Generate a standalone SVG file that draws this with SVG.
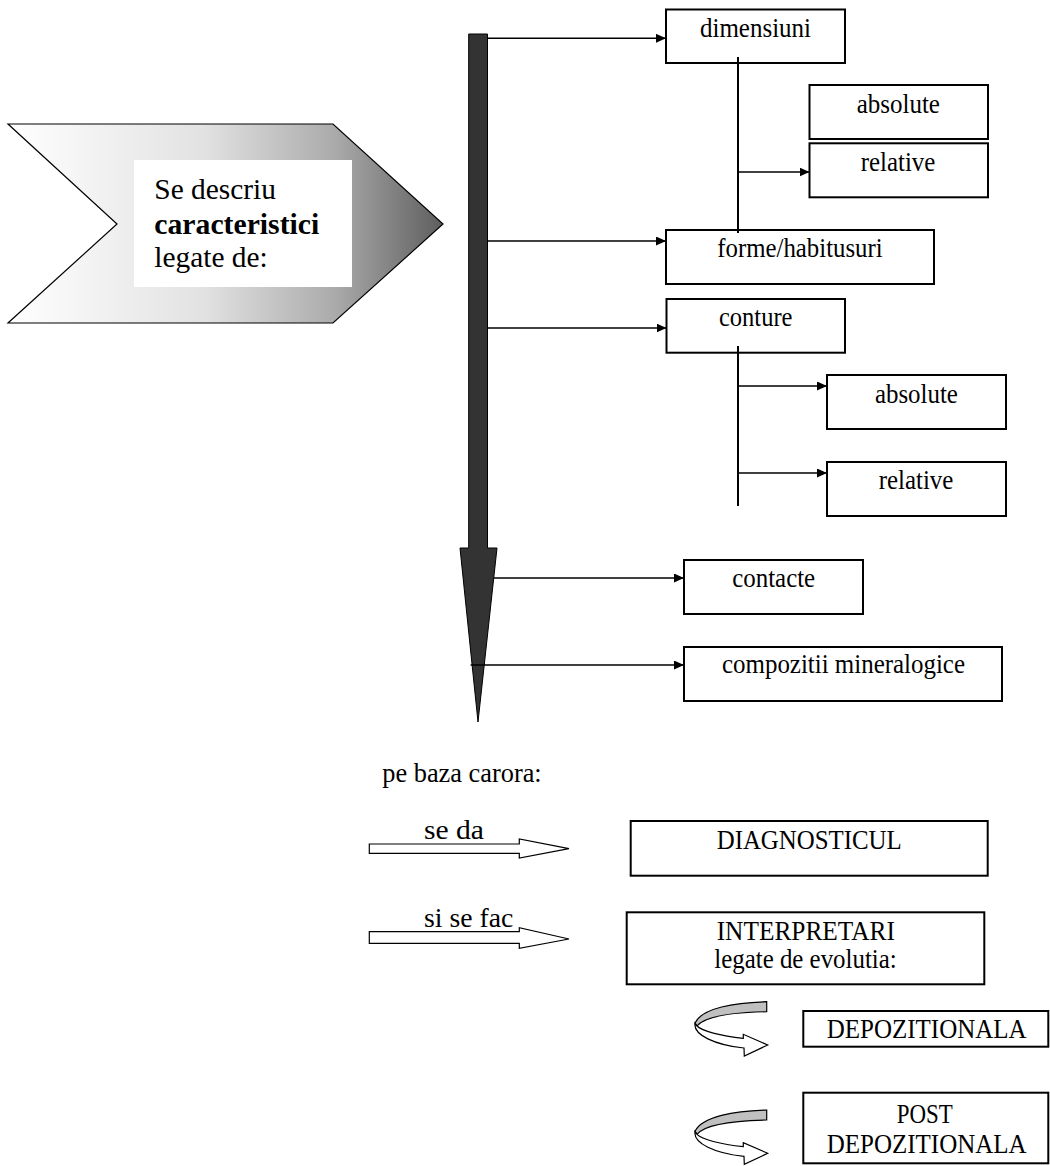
<svg xmlns="http://www.w3.org/2000/svg" width="1050" height="1166" viewBox="0 0 1050 1166">
<style>
  .box { fill: #ffffff; stroke: #000000; stroke-width: 2; }
  .t { font-family: "Liberation Serif", "Times New Roman", serif; font-size: 27px; fill: #000000; }
  .tc { text-anchor: middle; }
  .big { font-size: 29px; }
  .con { fill: none; stroke: #000000; stroke-width: 1.5; }
  .vline { fill: none; stroke: #000000; stroke-width: 2; }
  .hollow { fill: #ffffff; stroke: #000000; stroke-width: 1.2; stroke-linejoin: miter; }
  .band { fill: #c0c0c0; stroke: #000000; stroke-width: 1.2; }
  .ribbon { fill: #ffffff; stroke: #000000; stroke-width: 1.2; }
</style>
<defs>
  <linearGradient id="chevGrad" x1="8" y1="0" x2="443" y2="0" gradientUnits="userSpaceOnUse">
    <stop offset="0" stop-color="#ffffff"/>
    <stop offset="0.45" stop-color="#e2e2e2"/>
    <stop offset="0.75" stop-color="#ababab"/>
    <stop offset="1" stop-color="#5e5e5e"/>
  </linearGradient>
  <marker id="ah" markerUnits="userSpaceOnUse" markerWidth="10" markerHeight="9" refX="10" refY="4.5" orient="auto">
    <path d="M0,0 L10,4.5 L0,9 Z" fill="#000000"/>
  </marker>
  <g id="curl">
    <path class="band" d="M766.7,1001.7 C735,1002.5 702,1008 695,1023 L697,1026 C704,1017 730,1012.5 766.7,1011.7 Z"/>
    <path class="ribbon" d="M695,1023 C693,1035 715,1045 744,1048 L744.3,1056 L767.7,1045 L743.3,1034.3 L743.3,1038.3 C720,1036 702,1031 697,1026 Z"/>
  </g>
</defs>

<rect width="1050" height="1166" fill="#ffffff"/>

<g id="chevron">
  <polygon points="8,124 333,124 443,224 333,323 8,323 117,224" fill="url(#chevGrad)" stroke="#000000" stroke-width="1.2"/>
  <rect x="134" y="160" width="218" height="127" fill="#ffffff"/>
  <text class="t big" x="154.3" y="199.3" textLength="121.7" lengthAdjust="spacingAndGlyphs">Se descriu</text>
  <text class="t big" x="154.3" y="234" font-weight="bold" textLength="165" lengthAdjust="spacingAndGlyphs">caracteristici</text>
  <text class="t big" x="154.3" y="266.7" textLength="113.4" lengthAdjust="spacingAndGlyphs">legate de:</text>
</g>

<g id="main-arrow">
  <polygon points="468.7,34 487.5,34 487.5,548 497,548 478,722 460,548 468.7,548" fill="#333333" stroke="#000000" stroke-width="1"/>
</g>

<g id="dimensiuni">
  <rect class="box" x="666" y="9.5" width="179" height="53.5"/>
  <text class="t tc" x="755.5" y="36.7" textLength="111" lengthAdjust="spacingAndGlyphs">dimensiuni</text>
</g>
<g id="dim-absolute">
  <rect class="box" x="809.5" y="85" width="178.5" height="54"/>
  <text class="t tc" x="898.3" y="113.3" textLength="83.3" lengthAdjust="spacingAndGlyphs">absolute</text>
</g>
<g id="dim-relative">
  <rect class="box" x="809.5" y="143.3" width="178.5" height="54"/>
  <text class="t tc" x="898" y="170.7" textLength="74.7" lengthAdjust="spacingAndGlyphs">relative</text>
</g>
<g id="forme">
  <rect class="box" x="666" y="230" width="268" height="54"/>
  <text class="t tc" x="800" y="257" textLength="165.3" lengthAdjust="spacingAndGlyphs">forme/habitusuri</text>
</g>
<g id="conture">
  <rect class="box" x="666.5" y="299" width="178.5" height="53.7"/>
  <text class="t tc" x="755.7" y="326" textLength="73.6" lengthAdjust="spacingAndGlyphs">conture</text>
</g>
<g id="cont-absolute">
  <rect class="box" x="827" y="375" width="179" height="54"/>
  <text class="t tc" x="916.4" y="402.7" textLength="83" lengthAdjust="spacingAndGlyphs">absolute</text>
</g>
<g id="cont-relative">
  <rect class="box" x="827" y="462" width="179" height="54"/>
  <text class="t tc" x="916" y="489.3" textLength="74.7" lengthAdjust="spacingAndGlyphs">relative</text>
</g>
<g id="contacte">
  <rect class="box" x="684" y="560" width="179" height="54"/>
  <text class="t tc" x="773.7" y="586.7" textLength="83" lengthAdjust="spacingAndGlyphs">contacte</text>
</g>
<g id="compozitii">
  <rect class="box" x="684" y="647" width="318" height="54"/>
  <text class="t tc" x="843.5" y="673.3" textLength="243" lengthAdjust="spacingAndGlyphs">compozitii mineralogice</text>
</g>

<g id="connectors">
  <line class="con" x1="487.5" y1="38.3" x2="666" y2="38.3" marker-end="url(#ah)"/>
  <line class="vline" x1="738" y1="57" x2="738" y2="233"/>
  <line class="con" x1="738" y1="172" x2="809.5" y2="172" marker-end="url(#ah)"/>
  <line class="con" x1="487.5" y1="241" x2="666" y2="241" marker-end="url(#ah)"/>
  <line class="con" x1="487.5" y1="328" x2="666.5" y2="328" marker-end="url(#ah)"/>
  <line class="vline" x1="738" y1="346" x2="738" y2="506"/>
  <line class="con" x1="738" y1="386" x2="827" y2="386" marker-end="url(#ah)"/>
  <line class="con" x1="738" y1="473" x2="827" y2="473" marker-end="url(#ah)"/>
  <line class="con" x1="493.6" y1="578" x2="684" y2="578" marker-end="url(#ah)"/>
  <line class="con" x1="470.6" y1="665" x2="684" y2="665" marker-end="url(#ah)"/>
</g>

<g id="pe-baza">
  <text class="t" x="382.3" y="781.7" textLength="159.4" lengthAdjust="spacingAndGlyphs">pe baza carora:</text>
</g>

<g id="arrow-se-da">
  <polygon class="hollow" points="369.3,844 519.3,844 519.3,839 569,848.7 519.3,858 519.3,853.3 369.3,853.3"/>
  <text class="t" x="424" y="839.3" textLength="60" lengthAdjust="spacingAndGlyphs">se da</text>
</g>
<g id="arrow-si-se-fac">
  <polygon class="hollow" points="369.3,931.7 519.3,931.7 519.3,927.7 569,939 519.3,948.3 519.3,943.3 369.3,943.3"/>
  <text class="t" x="424" y="926.7" textLength="89.3" lengthAdjust="spacingAndGlyphs">si se fac</text>
</g>

<g id="diagnosticul">
  <rect class="box" x="630.7" y="821" width="357" height="54.7"/>
  <text class="t tc" x="809.2" y="849.3" textLength="185" lengthAdjust="spacingAndGlyphs">DIAGNOSTICUL</text>
</g>
<g id="interpretari">
  <rect class="box" x="626.7" y="912.3" width="357.6" height="72"/>
  <text class="t tc" x="805.8" y="940" textLength="178.3" lengthAdjust="spacingAndGlyphs">INTERPRETARI</text>
  <text class="t tc" x="805.5" y="968.3" textLength="182.4" lengthAdjust="spacingAndGlyphs">legate de evolutia:</text>
</g>

<g id="curl-1">
  <use href="#curl"/>
</g>
<g id="depozitionala">
  <rect class="box" x="803.3" y="1011" width="245" height="35.7"/>
  <text class="t tc" x="926.7" y="1038.3" textLength="200" lengthAdjust="spacingAndGlyphs">DEPOZITIONALA</text>
</g>

<g id="curl-2">
  <use href="#curl" transform="translate(0,108.3)"/>
</g>
<g id="post-depozitionala">
  <rect class="box" x="803.3" y="1092.7" width="245" height="70.6"/>
  <text class="t tc" x="924.7" y="1123.3" textLength="56" lengthAdjust="spacingAndGlyphs">POST</text>
  <text class="t tc" x="926.7" y="1153.3" textLength="200" lengthAdjust="spacingAndGlyphs">DEPOZITIONALA</text>
</g>
</svg>
